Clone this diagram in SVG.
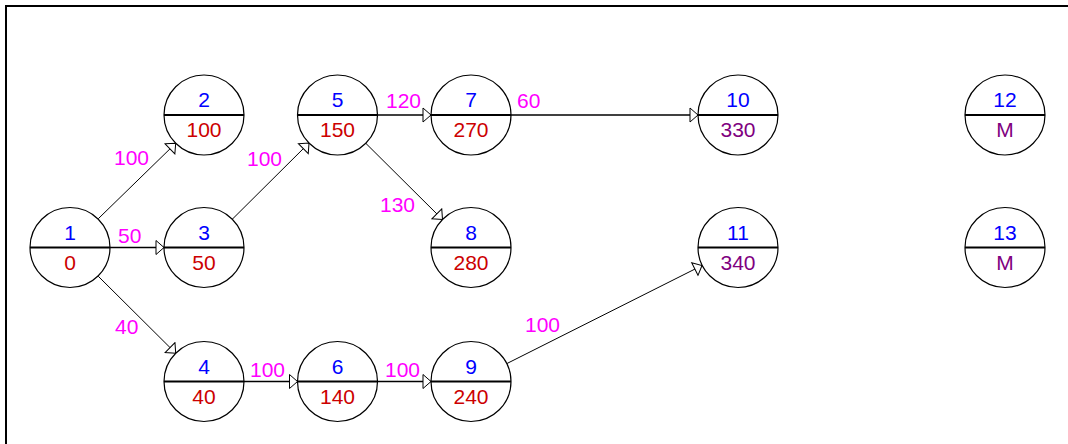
<svg xmlns="http://www.w3.org/2000/svg" width="1068" height="444" viewBox="0 0 1068 444">
<style>
.c{fill:#fff;stroke:#000;stroke-width:1.2}
.d{stroke:#000;stroke-width:2}
text{font-family:"Liberation Sans",Arial,sans-serif;font-size:21px}
.t{fill:#0000ff;text-anchor:middle}
.b{fill:#cc0000;text-anchor:middle}
.p{fill:#800080;text-anchor:middle}
.l{fill:#ff00ff}
.e{stroke:#000;stroke-width:1;fill:none;marker-end:url(#ar)}
.h{stroke-width:1.6}
</style>
<defs>
<marker id="ar" markerUnits="userSpaceOnUse" viewBox="-1 -8 10 16" markerWidth="10" markerHeight="16" refX="8" refY="0" orient="auto">
<path d="M0,-7 L8,0 L0,7 Z" fill="#fff" stroke="#000" stroke-width="1"/>
</marker>
</defs>
<rect x="6" y="6" width="1100" height="500" fill="#fff" stroke="#000" stroke-width="2"/>
<g id="connectors">
<line class="e" x1="98.3" y1="218.7" x2="175.7" y2="143.3"/>
<line class="e h" x1="110" y1="247.5" x2="164" y2="247.5"/>
<line class="e" x1="98.3" y1="276.3" x2="175.7" y2="353.2"/>
<line class="e" x1="232" y1="219.5" x2="309" y2="143"/>
<line class="e h" x1="377.5" y1="115" x2="431" y2="115"/>
<line class="e" x1="365.5" y1="143" x2="442.5" y2="219.5"/>
<line class="e h" x1="511" y1="115" x2="698" y2="115"/>
<line class="e h" x1="244" y1="381.5" x2="297.5" y2="381.5"/>
<line class="e h" x1="377.5" y1="381.5" x2="431" y2="381.5"/>
<line class="e" x1="506.8" y1="363.6" x2="702" y2="265.5"/>
<text class="l" x="114" y="165">100</text>
<text class="l" x="118" y="243">50</text>
<text class="l" x="115" y="334">40</text>
<text class="l" x="247" y="166">100</text>
<text class="l" x="386" y="108">120</text>
<text class="l" x="517" y="108">60</text>
<text class="l" x="380" y="212">130</text>
<text class="l" x="250" y="377">100</text>
<text class="l" x="385" y="377">100</text>
<text class="l" x="525" y="332">100</text>
</g>
<g id="n1"><circle class="c" cx="70" cy="247.5" r="40"/><line class="d" x1="30" y1="247.5" x2="110" y2="247.5"/><text class="t" x="70" y="239.5">1</text><text class="b" x="70" y="269.5">0</text></g>
<g id="n2"><circle class="c" cx="204" cy="115" r="40"/><line class="d" x1="164" y1="115" x2="244" y2="115"/><text class="t" x="204" y="107">2</text><text class="b" x="204" y="137">100</text></g>
<g id="n3"><circle class="c" cx="204" cy="247.5" r="40"/><line class="d" x1="164" y1="247.5" x2="244" y2="247.5"/><text class="t" x="204" y="239.5">3</text><text class="b" x="204" y="269.5">50</text></g>
<g id="n4"><circle class="c" cx="204" cy="381.5" r="40"/><line class="d" x1="164" y1="381.5" x2="244" y2="381.5"/><text class="t" x="204" y="373.5">4</text><text class="b" x="204" y="403.5">40</text></g>
<g id="n5"><circle class="c" cx="337.5" cy="115" r="40"/><line class="d" x1="297.5" y1="115" x2="377.5" y2="115"/><text class="t" x="337.5" y="107">5</text><text class="b" x="337.5" y="137">150</text></g>
<g id="n6"><circle class="c" cx="337.5" cy="381.5" r="40"/><line class="d" x1="297.5" y1="381.5" x2="377.5" y2="381.5"/><text class="t" x="337.5" y="373.5">6</text><text class="b" x="337.5" y="403.5">140</text></g>
<g id="n7"><circle class="c" cx="471" cy="115" r="40"/><line class="d" x1="431" y1="115" x2="511" y2="115"/><text class="t" x="471" y="107">7</text><text class="b" x="471" y="137">270</text></g>
<g id="n8"><circle class="c" cx="471" cy="247.5" r="40"/><line class="d" x1="431" y1="247.5" x2="511" y2="247.5"/><text class="t" x="471" y="239.5">8</text><text class="b" x="471" y="269.5">280</text></g>
<g id="n9"><circle class="c" cx="471" cy="381.5" r="40"/><line class="d" x1="431" y1="381.5" x2="511" y2="381.5"/><text class="t" x="471" y="373.5">9</text><text class="b" x="471" y="403.5">240</text></g>
<g id="n10"><circle class="c" cx="738" cy="115" r="40"/><line class="d" x1="698" y1="115" x2="778" y2="115"/><text class="t" x="738" y="107">10</text><text class="p" x="738" y="137">330</text></g>
<g id="n11"><circle class="c" cx="738" cy="247.5" r="40"/><line class="d" x1="698" y1="247.5" x2="778" y2="247.5"/><text class="t" x="738" y="239.5">11</text><text class="p" x="738" y="269.5">340</text></g>
<g id="n12"><circle class="c" cx="1005" cy="115" r="40"/><line class="d" x1="965" y1="115" x2="1045" y2="115"/><text class="t" x="1005" y="107">12</text><text class="p" x="1005" y="137">M</text></g>
<g id="n13"><circle class="c" cx="1005" cy="247.5" r="40"/><line class="d" x1="965" y1="247.5" x2="1045" y2="247.5"/><text class="t" x="1005" y="239.5">13</text><text class="p" x="1005" y="269.5">M</text></g>
</svg>
